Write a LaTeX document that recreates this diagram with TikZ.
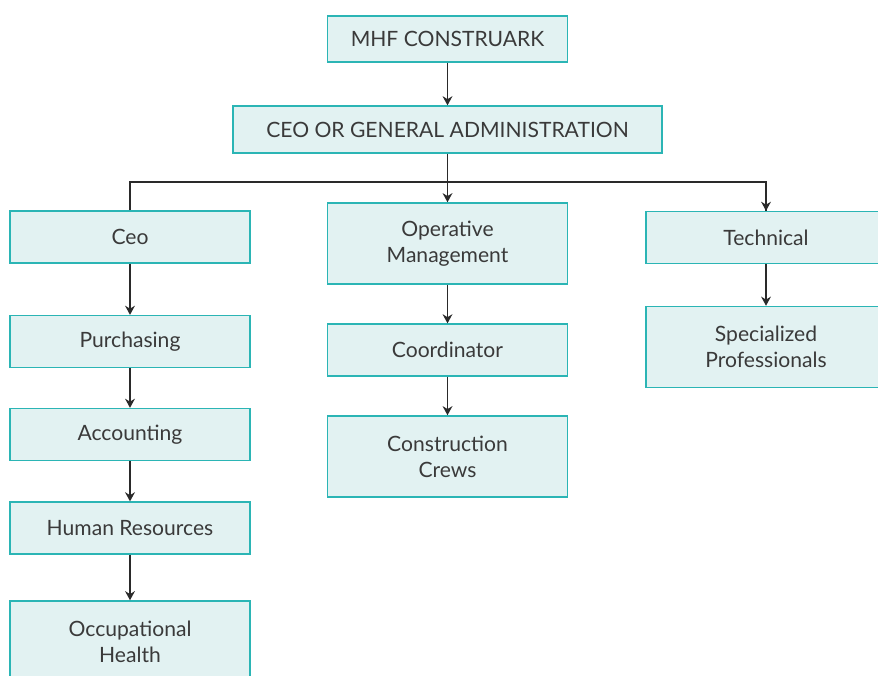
\documentclass[tikz,border=0pt]{standalone}
\usepackage{fontspec}
\setmainfont{Lato}
\usetikzlibrary{arrows.meta}
\definecolor{boxfill}{HTML}{E2F2F2}
\definecolor{boxline}{HTML}{2BB5B5}
\definecolor{boxtext}{HTML}{3A3A3A}
\definecolor{linkcol}{HTML}{2A2A2A}
\begin{document}
\begin{tikzpicture}[x=0.025cm, y=-0.025cm, font=\fontsize{15}{18.5}\selectfont,
	box/.style={draw=boxline, fill=boxfill, line width=0.9pt, text=boxtext, minimum width=6cm, minimum height=1.3cm, align=center, inner sep=0pt},
	tallbox/.style={box, minimum height=2.03cm},
	link/.style={draw=linkcol, line width=0.9pt, -{Stealth[length=6.5pt, width=7pt]}}]
	\useasboundingbox (0,0) rectangle (878,675);
	\clip (0,0) rectangle (878,675);
	\node[box, minimum height=1.15cm] (mhf) at (447.5,39) {MHF CONSTRUARK};
	\node[box, minimum width=10.725cm, minimum height=1.175cm] (admin) at (447.5,129.5) {CEO OR GENERAL ADMINISTRATION};
	\node[box] (ceo) at (130,237) {Ceo};
	\node[box] (purch) at (130,341.5) {Purchasing};
	\node[box] (acc) at (130,434.5) {Accounting};
	\node[box] (hr) at (130,528) {Human Resources};
	\node[tallbox] (occ) at (130,641.5) {Occupational\\Health};
	\node[tallbox] (oper) at (447.5,243.5) {Operative\\Management};
	\node[box] (coord) at (447.5,350) {Coordinator};
	\node[tallbox] (crews) at (447.5,456.5) {Construction\\Crews};
	\node[box] (tech) at (766,237.5) {Technical};
	\node[tallbox] (spec) at (766,347) {Specialized\\Professionals};
	\coordinate (bus) at (447.5,182);
	\draw[link] (mhf) -- (admin);
	\draw[link] (admin) -- (oper);
	\draw[link, -] (ceo.north) -- (ceo.north |- bus) -| (tech.north);
	\draw[link] (tech.north |- bus) -- (tech.north);
	\draw[link] (ceo) -- (purch);
	\draw[link] (purch) -- (acc);
	\draw[link] (acc) -- (hr);
	\draw[link] (hr) -- (occ);
	\draw[link] (oper) -- (coord);
	\draw[link] (coord) -- (crews);
	\draw[link] (tech) -- (spec);
\end{tikzpicture}
\end{document}
